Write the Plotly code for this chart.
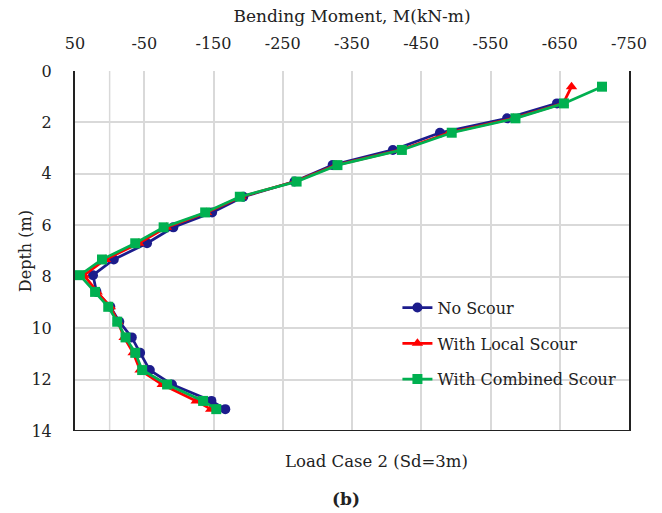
import plotly.graph_objects as go

# Depth below pile head (m)
depth = [0.61, 1.26, 1.84, 2.40, 3.07, 3.66, 4.30, 4.89, 5.50, 6.08, 6.70,
         7.33, 7.94, 8.59, 9.17, 9.75, 10.36, 10.96, 11.63, 12.19, 12.83, 13.15]

# Bending moment profiles (kN-m)
no_scour = [None, -646, -574, -477, -409, -322, -267, -193, -148, -92, -54,
            -6, 24, 19, -1, -14, -32, -44, -58, -90, -147, -167]
local_scour = [-667, -655, -583, -490, -420, -327, -268, -190, -140, -82, -42,
               6, 37, 18, -1, -12, -21, -34, -44, -76, -125, -146]
combined_scour = [-711, -656, -586, -494, -422, -329, -270, -188, -138, -78, -37,
                  11, 43, 21, 2, -11, -23, -37, -47, -83, -135, -154]

x_ticks = [50, -50, -150, -250, -350, -450, -550, -650, -750]
x_tick_text = ["50", "-50", "-150", "-250", "-350", "-450", "-550", "-650", "-750"]
y_ticks = [0, 2, 4, 6, 8, 10, 12, 14]

FONT = "DejaVu Serif"
INK = "#222222"

fig = go.Figure()
series = [
    ("No Scour", no_scour, "#1C1C8C", "circle", 10),
    ("With Local Scour", local_scour, "#FF0000", "triangle-up", 10),
    ("With Combined Scour", combined_scour, "#00B050", "square", 10),
]
for i, (name, vals, color, symbol, size) in enumerate(series):
    fig.add_trace(go.Scatter(
        x=vals, y=depth, name=name, mode="lines+markers",
        line=dict(color=color, width=2.75),
        marker=dict(color=color, symbol=symbol, size=size),
        legendgroup=f"g{i}", connectgaps=False,
    ))

# vertical reference at zero moment
fig.add_shape(type="line", xref="x", yref="y", x0=0, x1=0, y0=0, y1=14,
              line=dict(color="#d9d9d9", width=1.5), layer="below")
# bottom frame
fig.add_shape(type="line", xref="x", yref="y", x0=50, x1=-750, y0=14, y1=14,
              line=dict(color=INK, width=2))

fig.update_layout(
    width=662, height=513,
    margin=dict(l=75, r=33, t=71, b=82),
    paper_bgcolor="white", plot_bgcolor="white",
    font=dict(family=FONT, size=16, color=INK),
    showlegend=True,
    legend=dict(x=0.582, y=0.39, xanchor="left", yanchor="top",
                bgcolor="rgba(0,0,0,0)", tracegroupgap=12,
                font=dict(size=16, family=FONT)),
    xaxis=dict(
        side="top", range=[50, -750], tickvals=x_ticks, ticktext=x_tick_text,
        showgrid=True, gridcolor="#d9d9d9", gridwidth=1.5,
        zeroline=False, showline=False, ticks="",
        ticklabelstandoff=18,
        tickfont=dict(size=16),
        title=dict(text="Bending Moment, M(kN-m)", font=dict(size=17), standoff=6),
    ),
    yaxis=dict(
        range=[14, 0], tickvals=y_ticks,
        showgrid=True, gridcolor="#d9d9d9", gridwidth=1.5,
        zeroline=False, showline=True, linecolor=INK, linewidth=2,
        mirror=True, ticks="", ticklabelstandoff=18,
        tickfont=dict(size=16),
    ),
)

# depth axis title
fig.add_annotation(text="Depth (m)", xref="paper", yref="paper",
                   x=-0.09, y=0.5, textangle=-90, showarrow=False,
                   xanchor="center", yanchor="middle",
                   font=dict(size=16, family=FONT))
fig.add_annotation(text="Load Case 2 (Sd=3m)", xref="paper", yref="paper",
                   x=0.545, y=-0.085, showarrow=False, yanchor="middle",
                   xanchor="center", font=dict(size=16.5, family=FONT))
fig.add_annotation(text="<b>(b)</b>", xref="paper", yref="paper",
                   x=0.49, y=-0.19, showarrow=False, yanchor="middle",
                   xanchor="center", font=dict(size=17, family=FONT))

fig.write_html("out.html")
